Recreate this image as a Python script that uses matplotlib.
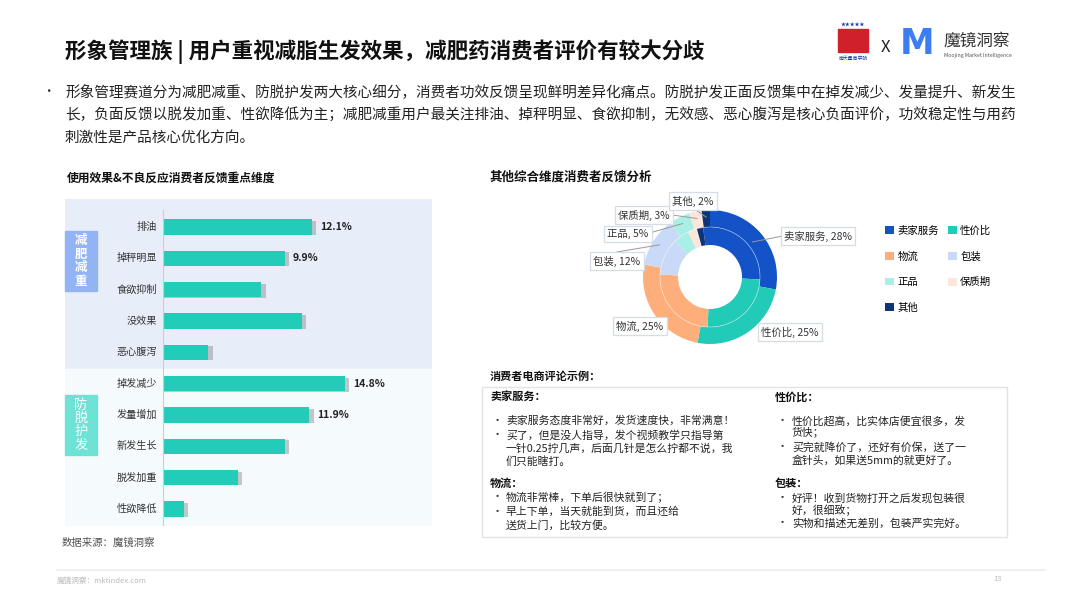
import numpy as np
import matplotlib.pyplot as plt
from matplotlib.patches import Rectangle

plt.rcParams['font.family'] = ['Noto Sans CJK SC', 'DejaVu Sans']

# bar chart data
bar_labels = ['排油', '掉秤明显', '食欲抑制', '没效果', '恶心腹泻',
              '掉发减少', '发量增加', '新发生长', '脱发加重', '性欲降低']
bar_values = [12.1, 9.9, 8.0, 11.3, 3.7, 14.8, 11.9, 9.9, 6.1, 1.7]
bar_shown = ['12.1%', '9.9%', '', '', '', '14.8%', '11.9%', '', '', '']
groups = ['减肥减重', '防脱护发']

# donut data
pie_labels = ['卖家服务', '性价比', '物流', '包装', '正品', '保质期', '其他']
pie_values = [28, 25, 25, 12, 5, 3, 2]
pie_colors = ['#1452C8', '#21CBB8', '#FDAE7A', '#C9DAF8', '#A9EFE6', '#FDE6D9', '#0E3478']

W, H = 1080, 607
fig = plt.figure(figsize=(W / 100, H / 100), dpi=100)
bg = fig.add_axes([0, 0, 1, 1])
bg.set_xlim(0, W)
bg.set_ylim(H, 0)
bg.axis('off')


def px_axes(x0, y0, x1, y1):
    return fig.add_axes([x0 / W, 1 - y1 / H, (x1 - x0) / W, (y1 - y0) / H])


# header
bg.text(65, 52, '形象管理族 | 用户重视减脂生发效果，减肥药消费者评价有较大分歧',
        fontsize=15.5, fontweight='bold', color='#111111', va='center')
bg.text(42, 92, '·', fontsize=9, color='#333333', va='center')
body = ['形象管理赛道分为减肥减重、防脱护发两大核心细分，消费者功效反馈呈现鲜明差异化痛点。防脱护发正面反馈集中在掉发减少、发量提升、新发生',
        '长，负面反馈以脱发加重、性欲降低为主；减肥减重用户最关注排油、掉秤明显、食欲抑制，无效感、恶心腹泻是核心负面评价，功效稳定性与用药',
        '刺激性是产品核心优化方向。']
for i, line in enumerate(body):
    bg.text(65, 92 + i * 23, line, fontsize=10.5, color='#222222', va='center')

# logos (rough)
bg.add_patch(Rectangle((838, 29), 30, 23, color='#D0202A'))
bg.text(853, 25, '★★★★★', fontsize=3.5, color='#1F3F9A', ha='center', va='center')
bg.text(853, 58, '南天星商学院', fontsize=3.5, color='#1F3F9A', ha='center', va='center')
bg.text(885, 47, 'X', fontsize=12, color='#222222', ha='center', va='center')
bg.text(917, 44, 'M', fontsize=25, fontweight='bold', color='#3C7DF2',
        ha='center', va='center', family='DejaVu Sans')
bg.text(943, 41, '魔镜洞察', fontsize=12, color='#333333', va='center')
bg.text(944, 55, 'Moojing Market Intelligence', fontsize=3.8, color='#555555', va='center')

# bar chart
bg.text(67, 178, '使用效果&不良反应消费者反馈重点维度', fontsize=8.5,
        fontweight='bold', color='#111111', va='center')
scale = 12.29  # px per %
row = 31.33
ax = px_axes(65, 199, 432, 526)
ax.set_xlim(-(163 - 65) / scale, (432 - 163) / scale)
ax.set_ylim(9 + (526 - 509) / row, -(227 - 199) / row)
ax.axis('off')
ax.axhspan(-5, 4.53, color='#E7EEFA', zorder=0)
ax.axhspan(4.53, 20, color='#F5FAFC', zorder=0)
y = np.arange(len(bar_values))
vals = np.array(bar_values)
ax.barh(y + 0.03, vals + 0.35, height=0.44, color='#9A9A9A', alpha=0.55, zorder=1)
ax.barh(y, vals, height=0.48, color='#22CCB8', zorder=2)
ax.plot([0, 0], [-0.55, 9.5], color='#CCCCCC', lw=0.8, zorder=3)
for yi, lab, v, s in zip(y, bar_labels, vals, bar_shown):
    ax.text(-0.5, yi, lab, ha='right', va='center', fontsize=7.3, color='#333333')
    if s:
        ax.text(v + 0.65, yi, s, ha='left', va='center', fontsize=7.5,
                fontweight='bold', color='#222222')

bg.text(62, 543, '数据来源：魔镜洞察', fontsize=7.5, color='#555555', va='center')

# donut
bg.text(490, 177, '其他综合维度消费者反馈分析', fontsize=9, fontweight='bold',
        color='#111111', va='center')
cx, cy = 710, 277
pax = px_axes(cx - 90, cy - 90, cx + 90, cy + 90)
wedges, _ = pax.pie(pie_values, colors=pie_colors, radius=67, startangle=90,
                    counterclock=False, wedgeprops=dict(width=17, lw=0))
pax.pie(pie_values, colors=pie_colors, radius=50, startangle=98,
        counterclock=False, wedgeprops=dict(width=18, lw=0))
circ = plt.Circle((0, 0), 50, fill=False, ec='white', lw=0.5, alpha=0.5)
pax.add_patch(circ)
pax.set_xlim(-90, 90)
pax.set_ylim(-90, 90)
pax.set_aspect('equal')

# overlay for labels drawn above the sub-axes
fg = fig.add_axes([0, 0, 1, 1])
fg.set_xlim(0, W)
fg.set_ylim(H, 0)
fg.axis('off')
fg.patch.set_alpha(0)

fg.add_patch(Rectangle((65, 231), 32, 60, color='#93B4F4'))
fg.text(81, 261, '\n'.join(groups[0]), color='white', fontsize=9, fontweight='bold',
        ha='center', va='center', linespacing=1.05)
fg.add_patch(Rectangle((65, 395), 32, 60, color='#6FE2D6'))
fg.text(81, 425, '\n'.join(groups[1]), color='white', fontsize=9.5,
        ha='center', va='center', linespacing=1.0)

box_pos = {'卖家服务': (818, 236), '性价比': (790, 332), '物流': (640, 326),
           '包装': (617, 261), '正品': (628, 234), '保质期': (644, 215), '其他': (693, 201)}
line_end = {'卖家服务': (783, 236), '包装': (617, 252), '正品': (646, 234),
            '保质期': (672, 215), '其他': (693, 208)}
cum = np.cumsum([0] + pie_values)
for i, lab in enumerate(pie_labels):
    bx, by = box_pos[lab]
    if lab in line_end:
        mid = (cum[i] + cum[i + 1]) / 2 / 100 * 2 * np.pi
        r = 55 if lab == '卖家服务' else 60
        px, py = cx + r * np.sin(mid), cy - r * np.cos(mid)
        ex, ey = line_end[lab]
        fg.plot([px, ex], [py, ey], color='#999999', lw=0.7, zorder=4)
    fg.text(bx, by, f'{lab}, {pie_values[i]}%', fontsize=7.5, color='#333333',
            ha='center', va='center', zorder=5,
            bbox=dict(boxstyle='square,pad=0.3', fc='white', ec='#D6DCE6', lw=0.9))

order = [0, 2, 4, 6, 1, 3, 5]
fig.legend([wedges[k] for k in order], [pie_labels[k] for k in order],
           loc='upper left', bbox_to_anchor=(876 / W, 1 - 216 / H), ncol=2,
           frameon=False, fontsize=7.5, handlelength=0.8, handleheight=0.8,
           handletextpad=0.35, labelspacing=1.5, columnspacing=0.9)

# review box
bg.text(490, 376, '消费者电商评论示例：', fontsize=8, fontweight='bold',
        color='#111111', va='center')
bg.add_patch(Rectangle((482, 387), 525, 150, fill=False, ec='#E3E3E3', lw=1))
left = [(396, '卖家服务：', 'h'),
        (421, '卖家服务态度非常好，发货速度快，非常满意！', 'b'),
        (435, '买了，但是没人指导，发个视频教学只指导第', 'b'),
        (448, '一针0.25拧几声，后面几针是怎么拧都不说，我', 'c'),
        (461, '们只能瞎打。', 'c'),
        (483, '物流：', 'h'),
        (497, '物流非常棒，下单后很快就到了；', 'b'),
        (512, '早上下单，当天就能到货，而且还给', 'b'),
        (525, '送货上门，比较方便。', 'c')]
right = [(397, '性价比：', 'h'),
         (421, '性价比超高，比实体店便宜很多，发', 'b'),
         (433, '货快；', 'c'),
         (447, '买完就降价了，还好有价保，送了一', 'b'),
         (460, '盒针头，如果送5mm的就更好了。', 'c'),
         (483, '包装：', 'h'),
         (498, '好评！收到货物打开之后发现包装很', 'b'),
         (510, '好，很细致；', 'c'),
         (523, '实物和描述无差别，包装严实完好。', 'b')]
for lines, hx, tx in [(left, 490, 506), (right, 775, 792)]:
    for yy, s, kind in lines:
        if kind == 'h':
            bg.text(hx, yy, s, fontsize=8, fontweight='bold', color='#111111', va='center')
        else:
            if kind == 'b':
                bg.text(hx + 2, yy, '·', fontsize=8, color='#333333', va='center')
            bg.text(tx, yy, s, fontsize=7.8, color='#222222', va='center')

# footer
bg.plot([57, 1045], [570, 570], color='#EEEEEE', lw=1.2)
bg.text(57, 581, '魔镜洞察：mktindex.com', fontsize=5.5, color='#BBBBBB', va='center')
bg.text(993, 579, '13', fontsize=5.5, color='#BBBBBB', va='center')

fig.savefig('out.png', dpi=100)
